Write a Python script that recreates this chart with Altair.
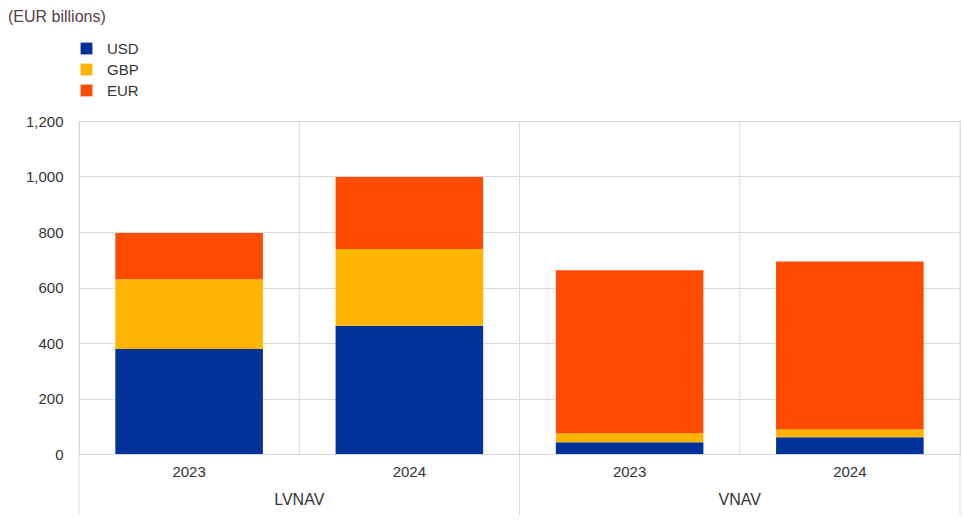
import altair as alt
import pandas as pd

groups = ["LVNAV", "LVNAV", "VNAV", "VNAV"]
years = ["2023", "2024", "2023", "2024"]
currencies = ["USD", "GBP", "EUR"]
usd = [378, 462, 42, 60]
gbp = [252, 277, 33, 28]
eur = [166, 259, 587, 606]
colors = ["#003299", "#FFB400", "#FF4B00"]

keys = [f"{g}|{y}" for g, y in zip(groups, years)]

rows = []
for i, k in enumerate(keys):
    for j, (c, vals) in enumerate(zip(currencies, [usd, gbp, eur])):
        rows.append({"key": k, "currency": c, "value": vals[i], "order": j})
df = pd.DataFrame(rows)

# separators: long at start of each group, short between years
sep_rows = []
for i, k in enumerate(keys):
    first = i == 0 or groups[i] != groups[i - 1]
    sep_rows.append({"key": k, "kind": "long" if first else "short"})
sep_df = pd.DataFrame(sep_rows)
long_df = sep_df[sep_df.kind == "long"]
short_df = sep_df[sep_df.kind == "short"]
end_df = pd.DataFrame([{"key": keys[-1]}])

grp_df = pd.DataFrame(
    [{"key": keys[i], "label": groups[i]} for i in range(1, len(keys)) if groups[i] == groups[i - 1]]
)

W, H = 881, 333
FONT = "Liberation Sans"
xscale = alt.Scale(domain=keys, paddingInner=0, paddingOuter=0)

bars = alt.Chart(df).mark_bar(width=alt.RelativeBandSize(0.67)).encode(
    x=alt.X(
        "key:N",
        scale=xscale,
        sort=keys,
        title=None,
        axis=alt.Axis(
            labelExpr="split(datum.label, '|')[1]",
            labelAngle=0,
            ticks=False,
            domain=False,
            grid=False,
            labelPadding=10,
            labelFontSize=15,
            labelColor="#333333",
            labelFont=FONT,
        ),
    ),
    y=alt.Y(
        "value:Q",
        stack="zero",
        scale=alt.Scale(domain=[0, 1200], nice=False),
        title=None,
        axis=alt.Axis(
            values=[0, 200, 400, 600, 800, 1000, 1200],
            format=",.0f",
            ticks=False,
            domain=False,
            gridColor="#d9d9d9",
            gridWidth=1,
            labelPadding=16,
            labelFontSize=15,
            labelColor="#333333",
            labelFont=FONT,
        ),
    ),
    color=alt.Color(
        "currency:N",
        scale=alt.Scale(domain=currencies, range=colors),
        sort=currencies,
        legend=alt.Legend(
            title=None,
            orient="none",
            legendX=0,
            legendY=-80,
            symbolType="square",
            symbolSize=140,
            symbolStrokeWidth=0,
            labelFontSize=15,
            labelFont=FONT,
            labelColor="#333333",
            rowPadding=5,
            labelOffset=13,
        ),
    ),
    order=alt.Order("order:Q"),
)

long_rules = alt.Chart(long_df).mark_rule(color="#d9d9d9", strokeWidth=1).encode(
    x=alt.X("key:N", scale=xscale, sort=keys, bandPosition=0, title=None),
    y=alt.value(0),
    y2=alt.value(394),
)
end_rule = alt.Chart(end_df).mark_rule(color="#d9d9d9", strokeWidth=1).encode(
    x=alt.X("key:N", scale=xscale, sort=keys, bandPosition=1, title=None),
    y=alt.value(0),
    y2=alt.value(394),
)
short_rules = alt.Chart(short_df).mark_rule(color="#d9d9d9", strokeWidth=1).encode(
    x=alt.X("key:N", scale=xscale, sort=keys, bandPosition=0, title=None),
    y=alt.value(0),
    y2=alt.value(H),
)
grp_text = alt.Chart(grp_df).mark_text(
    fontSize=16, font=FONT, color="#333333", baseline="middle", align="center"
).encode(
    x=alt.X("key:N", scale=xscale, sort=keys, bandPosition=0, title=None),
    y=alt.value(379),
    text="label:N",
)

chart = (
    alt.layer(bars, long_rules, short_rules, end_rule, grp_text)
    .properties(
        width=W,
        height=H,
        autosize=alt.AutoSizeParams(type="none"),
        padding={"left": 79, "top": 121, "right": 3, "bottom": 71},
        title=alt.Title(
            "(EUR billions)",
            anchor="start",
            frame="group",
            fontSize=16,
            fontWeight="normal",
            font=FONT,
            color="#5a3b45",
            dx=-71,
            offset=16,
        ),
    )
    .configure_view(stroke=None)
    .configure(background="white")
)

chart.save("out.html", embed_options={"renderer": "svg", "actions": False})
